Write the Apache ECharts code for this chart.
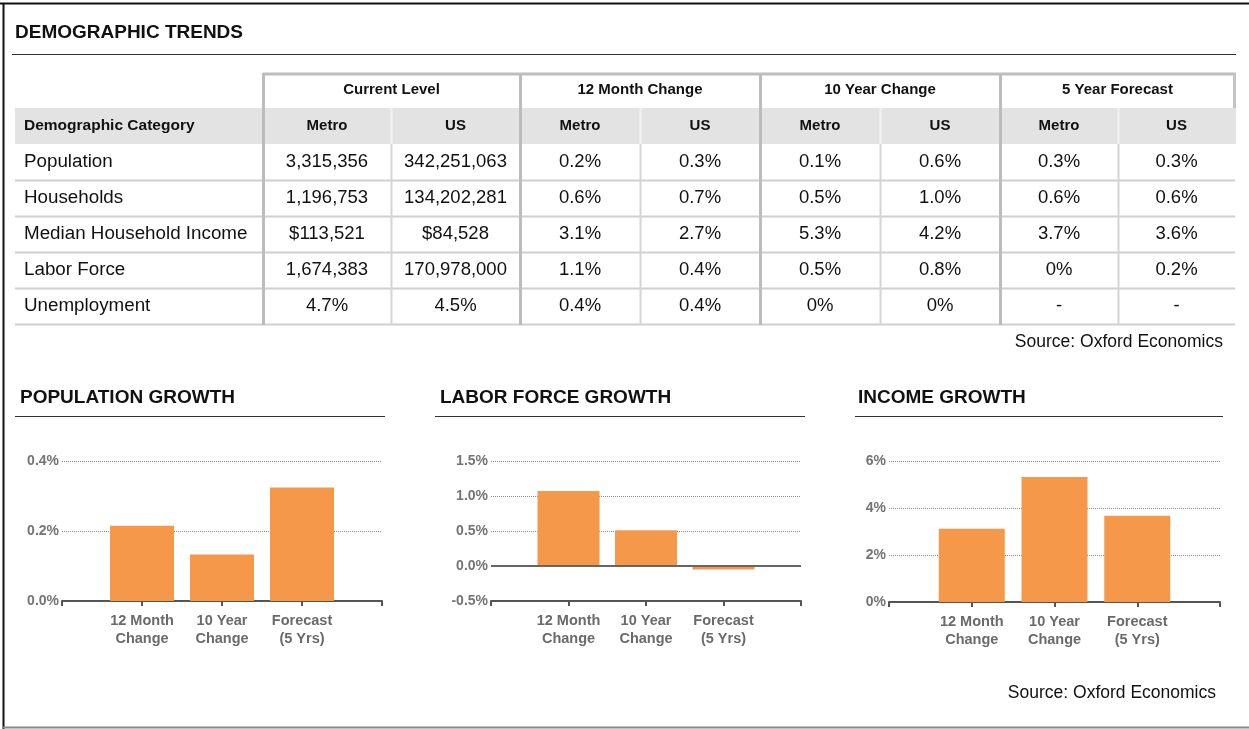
<!DOCTYPE html>
<html>
<head>
<meta charset="utf-8">
<script src="https://cdn.jsdelivr.net/npm/echarts@6/dist/echarts.min.js"></script>
<style>
  html, body { margin: 0; padding: 0; background: #fff; }
  #chart { width: 1249px; height: 729px; }
</style>
</head>
<body>
<div id="chart"></div>
<script>
  // table data
  const groups = ['Current Level', '12 Month Change', '10 Year Change', '5 Year Forecast'];
  const subCols = ['Metro', 'US'];
  const categories = ['Population', 'Households', 'Median Household Income', 'Labor Force', 'Unemployment'];
  const currentMetro = ['3,315,356', '1,196,753', '$113,521', '1,674,383', '4.7%'];
  const currentUS = ['342,251,063', '134,202,281', '$84,528', '170,978,000', '4.5%'];
  const m12Metro = ['0.2%', '0.6%', '3.1%', '1.1%', '0.4%'];
  const m12US = ['0.3%', '0.7%', '2.7%', '0.4%', '0.4%'];
  const y10Metro = ['0.1%', '0.5%', '5.3%', '0.5%', '0%'];
  const y10US = ['0.6%', '1.0%', '4.2%', '0.8%', '0%'];
  const fcMetro = ['0.3%', '0.6%', '3.7%', '0%', '-'];
  const fcUS = ['0.3%', '0.6%', '3.6%', '0.2%', '-'];

  // bar chart data
  const barLabels = ['12 Month\nChange', '10 Year\nChange', 'Forecast\n(5 Yrs)'];
  const popGrowth = [0.215, 0.133, 0.324];
  const laborGrowth = [1.07, 0.51, -0.05];
  const incomeGrowth = [3.12, 5.32, 3.67];

  const FONT = '"Liberation Sans", Arial, sans-serif';
  const ORANGE = '#f6984a';
  let chart = echarts.init(document.getElementById('chart'));

  const colEdges = [15, 263, 391, 520, 640, 760, 880, 1000, 1118, 1235];
  const rowTop = 144, rowH = 36;
  const tableCols = [currentMetro, currentUS, m12Metro, m12US, y10Metro, y10US, fcMetro, fcUS];

  function txt(x, y, s, size, weight, align, color) {
    return {
      type: 'text', x: x, y: y, silent: true,
      style: {
        text: s, fontSize: size, fontWeight: weight || 'normal', fontFamily: FONT,
        fill: color || '#111', align: align || 'left', verticalAlign: 'middle'
      }
    };
  }
  function line(x1, y1, x2, y2, color, w) {
    return {
      type: 'line', silent: true,
      shape: { x1: x1, y1: y1, x2: x2, y2: y2 },
      style: { stroke: color, lineWidth: w || 1 }
    };
  }

  let g = [];
  // outer frame
  g.push(line(0, 3.5, 1249, 3.5, '#111', 2));
  g.push(line(3.5, 3, 3.5, 729, '#111', 2));
  g.push(line(3, 727.5, 1249, 727.5, '#888', 2));

  g.push(txt(15, 33, 'DEMOGRAPHIC TRENDS', 19, 'bold'));
  g.push(line(12, 54.5, 1236, 54.5, '#333', 1));

  // header shading
  g.push({ type: 'rect', silent: true, shape: { x: 15, y: 108, width: 1221, height: 36 }, style: { fill: '#e3e3e3' } });
  // group header
  g.push(line(263, 74, 1236, 74, '#bdbdbd', 3));
  g.push(line(1234.5, 73, 1234.5, 108, '#c4c4c4', 3));
  groups.forEach((name, i) => {
    let x0 = colEdges[1 + i * 2], x1 = colEdges[3 + i * 2];
    g.push(txt((x0 + x1) / 2, 90, name, 15, 'bold', 'center'));
  });
  g.push(txt(24, 126, 'Demographic Category', 15.5, 'bold'));
  for (let c = 0; c < 8; c++) {
    let x0 = colEdges[1 + c], x1 = colEdges[2 + c];
    g.push(txt((x0 + x1) / 2, 126, subCols[c % 2], 15, 'bold', 'center'));
    if (c % 2 === 1) continue;
    // light divider inside the shaded row
    g.push(line(x1 + 0.5, 108, x1 + 0.5, 144, '#f2f2f2', 2));
  }
  // rows
  categories.forEach((cat, r) => {
    let cy = rowTop + r * rowH + rowH / 2;
    g.push(txt(24, cy, cat, 18.8, 'normal'));
    tableCols.forEach((col, c) => {
      let x0 = colEdges[1 + c], x1 = colEdges[2 + c];
      g.push(txt((x0 + x1) / 2, cy, col[r], 18.5, 'normal', 'center'));
    });
    g.push(line(15, rowTop + (r + 1) * rowH + 0.5, 1235, rowTop + (r + 1) * rowH + 0.5, '#cfcfcf', 2));
  });
  // vertical lines in body
  for (let c = 1; c < 9; c++) {
    let x = colEdges[c];
    if (c % 2 === 1) {
      g.push(line(x + 0.5, 73, x + 0.5, 325, '#bcbcbc', 3));
    } else {
      g.push(line(x + 0.5, 144, x + 0.5, 325, '#d4d4d4', 2));
    }
  }
  g.push(txt(1223, 342, 'Source: Oxford Economics', 17.5, 'normal', 'right'));

  // chart titles
  const titles = [['POPULATION GROWTH', 20, 15, 385], ['LABOR FORCE GROWTH', 440, 435, 805], ['INCOME GROWTH', 858, 855, 1223]];
  titles.forEach(t => {
    g.push(txt(t[1], 398, t[0], 19, 'bold'));
    g.push(line(t[2], 416.5, t[3], 416.5, '#333', 1));
  });
  g.push(txt(1216, 693, 'Source: Oxford Economics', 17.5, 'normal', 'right'));

  const grids = [
    { left: 62, top: 461, width: 320, height: 140 },
    { left: 491, top: 461, width: 310, height: 140 },
    { left: 889, top: 461, width: 331, height: 141 }
  ];
  const yRanges = [
    { min: 0, max: 0.4, interval: 0.2, dec: 1 },
    { min: -0.5, max: 1.5, interval: 0.5, dec: 1 },
    { min: 0, max: 6, interval: 2, dec: 0 }
  ];
  const barWidths = [64, 62, 66];
  const seriesValues = [popGrowth, laborGrowth, incomeGrowth];

  let xAxes = [], yAxes = [], series = [];
  grids.forEach((gr, i) => {
    xAxes.push({
      type: 'category', gridIndex: i, boundaryGap: false,
      data: [''].concat(barLabels, ['']),
      axisLine: { onZero: false, lineStyle: { color: '#555', width: 2 } },
      axisTick: { show: true, length: 5, lineStyle: { color: '#555', width: 2 } },
      axisLabel: {
        color: '#6a6a6a', fontSize: 14.5, fontWeight: 'bold', fontFamily: FONT,
        lineHeight: 18, margin: 11, interval: 0
      }
    });
    let yr = yRanges[i];
    yAxes.push({
      type: 'value', gridIndex: i, min: yr.min, max: yr.max, interval: yr.interval,
      axisLine: { show: false }, axisTick: { show: false },
      splitLine: { lineStyle: { color: '#8a8a8a', type: 'dotted', width: 1 } },
      axisLabel: {
        color: '#747474', fontSize: 14, fontWeight: 'bold', fontFamily: FONT, margin: 3,
        formatter: v => v.toFixed(yr.dec) + '%'
      }
    });
    let s = {
      type: 'bar', xAxisIndex: i, yAxisIndex: i, barWidth: barWidths[i],
      itemStyle: { color: ORANGE },
      data: ['-'].concat(seriesValues[i], ['-']),
      silent: true
    };
    if (i === 1) {
      s.markLine = {
        silent: true, symbol: 'none', label: { show: false },
        lineStyle: { color: '#666', type: 'solid', width: 2 },
        data: [{ yAxis: 0 }]
      };
    }
    series.push(s);
  });

  let option = {
    backgroundColor: '#fff',
    animation: false,
    grid: grids,
    xAxis: xAxes,
    yAxis: yAxes,
    series: series,
    graphic: g
  };
  chart.setOption(option);
</script>
</body>
</html>
